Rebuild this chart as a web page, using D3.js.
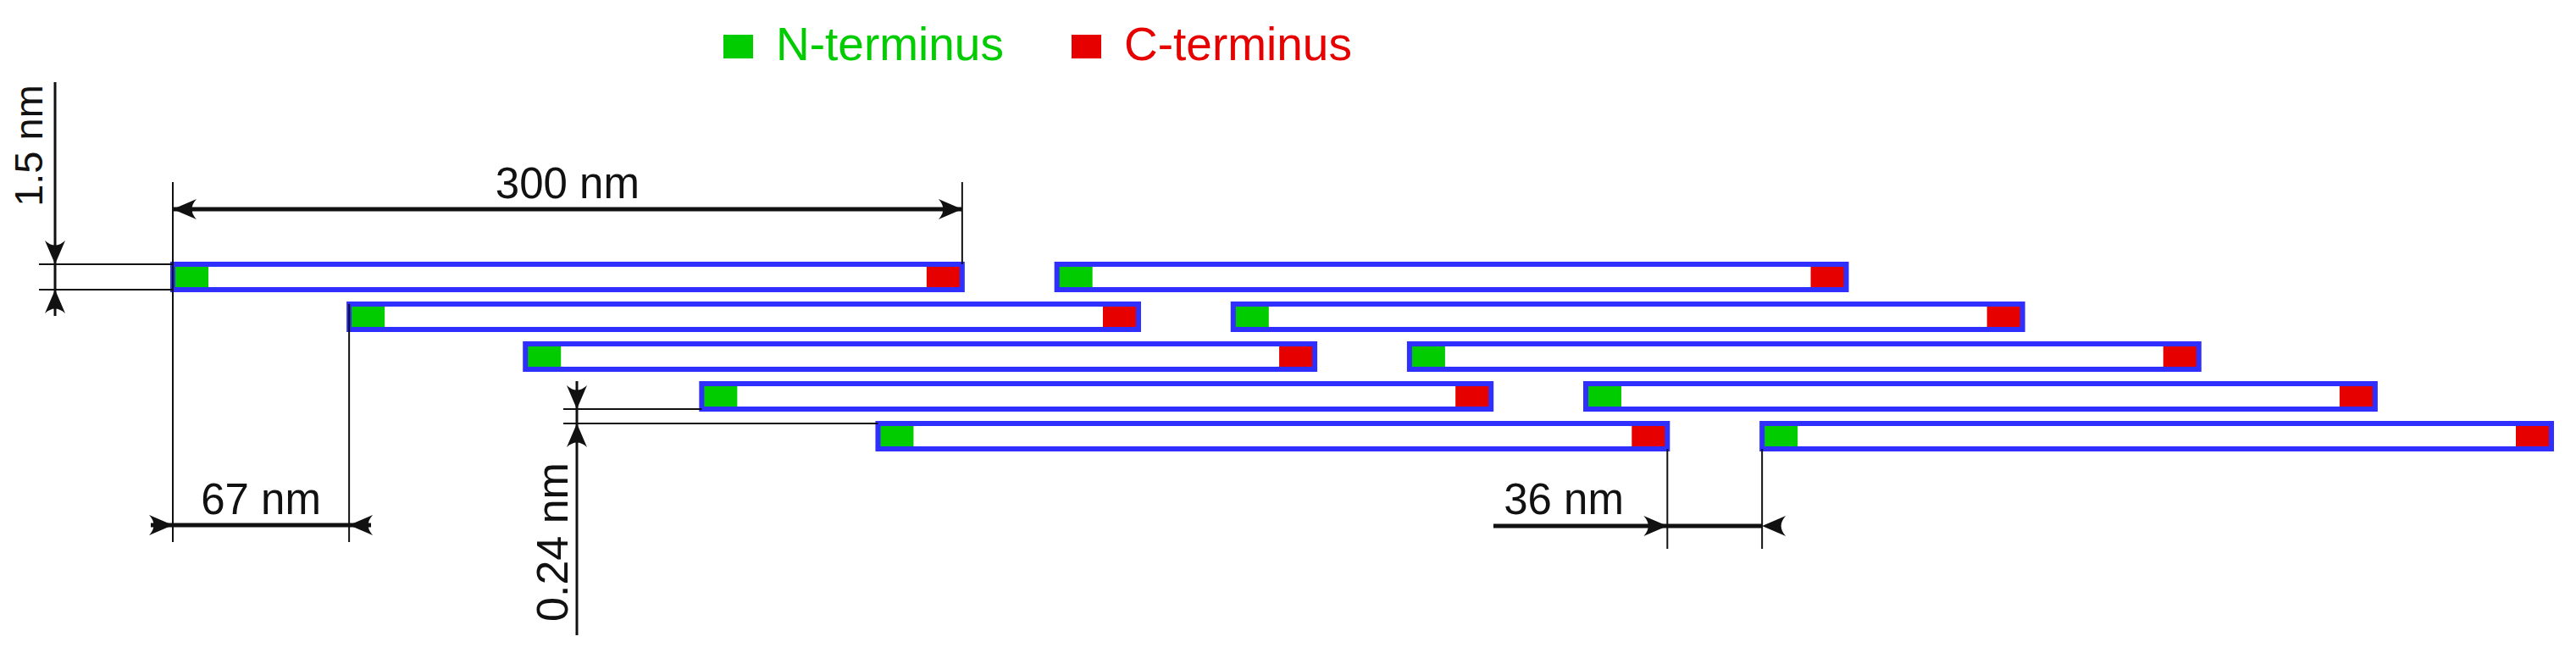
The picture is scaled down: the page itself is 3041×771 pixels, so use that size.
<!DOCTYPE html>
<html><head><meta charset="utf-8">
<script src="https://cdn.jsdelivr.net/npm/d3@7"></script>
<style>body{margin:0;background:#fff}svg{display:block}</style>
</head><body>
<script>
const rowOffsets = [0, 67, 134, 201, 268]; // nm, stagger of each row
const filamentLength = 300; // nm
const gapLength = 36; // nm
const groups = [0, 1];
const legendItems = [{label: "N-terminus", color: "#00cc00"}, {label: "C-terminus", color: "#e60000"}];
const dims = {length: "300 nm", width: "1.5 nm", stagger: "67 nm", rowGap: "0.24 nm", gap: "36 nm"};

const W = 3041, H = 771;
const svg = d3.select("body").append("svg").attr("width", W).attr("height", H);
const x = d3.scaleLinear().domain([0, 904]).range([204, 3012]);
const y = d3.scaleLinear().domain([0, 4]).range([312, 500]);
const barH = 30, capW = 40, font = "Liberation Sans, Arial, sans-serif";

const bars = [];
groups.forEach(g => rowOffsets.forEach((o, i) => {
  const s = o + g * (filamentLength + gapLength);
  bars.push({row: i, start: s, end: s + filamentLength});
}));
const bg = svg.append("g").selectAll("g").data(bars).join("g");
bg.append("rect").attr("x", d => x(d.start)).attr("y", d => y(d.row)).attr("width", d => x(d.end) - x(d.start)).attr("height", barH).attr("fill", "#fff");
bg.append("rect").attr("x", d => x(d.start) + 2).attr("y", d => y(d.row) + 3).attr("width", capW).attr("height", barH - 6).attr("fill", "#00cc00");
bg.append("rect").attr("x", d => x(d.end) - capW - 2).attr("y", d => y(d.row) + 3).attr("width", capW).attr("height", barH - 6).attr("fill", "#e60000");
bg.append("rect").attr("x", d => x(d.start)).attr("y", d => y(d.row)).attr("width", d => x(d.end) - x(d.start)).attr("height", barH).attr("fill", "none").attr("stroke", "#2f2fff").attr("stroke-width", 6);

// legend
const lg = svg.append("g").selectAll("g").data(legendItems).join("g").attr("transform", (d, i) => `translate(${854 + i * 411},0)`);
lg.append("rect").attr("x", 0).attr("y", 41).attr("width", 35).attr("height", 28).attr("fill", d => d.color);
lg.append("text").attr("x", 62).attr("y", 71).attr("font-family", font).attr("font-size", 55).attr("fill", d => d.color).text(d => d.label);

const dg = svg.append("g").attr("stroke", "#111").attr("fill", "none");
function line(x1, y1, x2, y2, w) { dg.append("line").attr("x1", x1).attr("y1", y1).attr("x2", x2).attr("y2", y2).attr("stroke-width", w || 2); }
function arrow(tx, ty, angle) {
  svg.append("path").attr("d", "M0,0 L-28,-12 Q-17,0 -28,12 Z").attr("fill", "#111")
    .attr("transform", `translate(${tx},${ty}) rotate(${angle})`);
}
function label(t, tx, ty, rot, fs) {
  svg.append("text").attr("x", tx).attr("y", ty).attr("text-anchor", "middle").attr("font-family", font).attr("font-size", fs || 51).attr("fill", "#111")
    .attr("transform", rot ? `rotate(-90,${tx},${ty})` : null).text(t);
}

// 300 nm
const x0 = x(0), x300 = x(filamentLength), y0 = y(0);
line(x0, 215, x0, 640); line(x300, 215, x300, y0);
line(x0, 247, x300, 247, 5); arrow(x300, 247, 0); arrow(x0, 247, 180);
label(dims.length, (x0 + x300) / 2, 234);

// 1.5 nm
line(46, y0, x0, y0); line(46, y0 + barH, x0, y0 + barH);
line(65, 97, 65, 373, 3); arrow(65, y0, 90); arrow(65, y0 + barH, -90);
label(dims.width, 50, 172, true, 47);

// 67 nm
const x67 = x(rowOffsets[1]);
line(x67, y(1), x67, 640);
line(178, 620, 438, 620, 5); arrow(x0, 620, 0); arrow(x67, 620, 180);
label(dims.stagger, (x0 + x67) / 2, 607);

// 0.24 nm
const yb = y(3) + barH, yt = y(4);
line(665, yb, x(rowOffsets[3]), yb); line(665, yt, x(rowOffsets[4]), yt);
line(681, 450, 681, 750, 3); arrow(681, yb, 90); arrow(681, yt, -90);
label(dims.rowGap, 670, 640, true, 52);

// 36 nm
const xe = x(rowOffsets[4] + filamentLength), xs = x(rowOffsets[4] + filamentLength + gapLength);
line(xe, yt + barH, xe, 648); line(xs, yt + barH, xs, 648);
line(1763, 621, xs, 621, 5); arrow(xe, 621, 0); arrow(xs, 621, 180);
label(dims.gap, 1846, 607);
</script>
</body></html>
